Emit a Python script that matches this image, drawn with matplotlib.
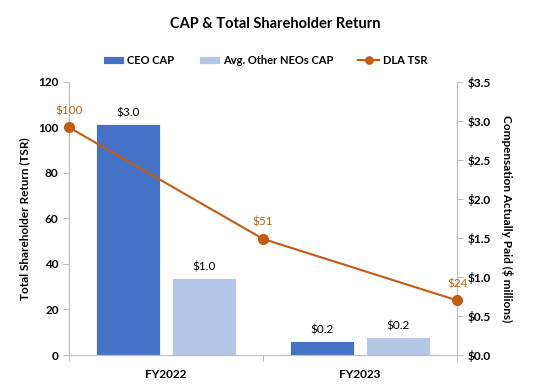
import matplotlib.pyplot as plt
from matplotlib.ticker import FuncFormatter

plt.rcParams['font.family'] = ['Lato', 'DejaVu Sans']

years = ['FY2022', 'FY2023']
ceo_cap = [2.96, 0.18]
other_cap = [0.99, 0.235]
tsr_pos = [0, 1, 2]
tsr = [100, 51, 24]

blue = '#4472C4'
light = '#B4C7E7'
orange = '#C55A11'
grey = '#BFBFBF'

fig = plt.figure(figsize=(5.5, 3.88), dpi=100)
ax = fig.add_axes([0.1255, 0.085, 0.7055, 0.704])
ax2 = ax.twinx()

# bars on the compensation scale (shown on the right)
w = 0.33
off = 0.194
centers = [0.5, 1.5]
b1 = ax.bar([c - off for c in centers], ceo_cap, w, color=blue, edgecolor='white', linewidth=0.6, label='CEO CAP')
b2 = ax.bar([c + off for c in centers], other_cap, w, color=light, edgecolor='white', linewidth=0.6, label='Avg. Other NEOs CAP')
for bars in (b1, b2):
    for r in bars:
        ax.annotate('$%.1f' % r.get_height(), (r.get_x() + r.get_width() / 2, r.get_height()),
                    xytext=(0, 4), textcoords='offset points', ha='center', va='bottom', fontsize=8.5)

ax.set_ylim(0, 3.5)
ax.set_yticks([i * 0.5 for i in range(8)])
ax.yaxis.set_major_formatter(FuncFormatter(lambda v, p: '$%.1f' % v))
ax.yaxis.tick_right()
ax.yaxis.set_label_position('right')
ax.set_ylabel('Compensation Actually Paid ($ millions)', rotation=-90, labelpad=16, fontsize=8.5, fontweight='bold')

# TSR line (shown on the left)
ln, = ax2.plot(tsr_pos, tsr, color=orange, lw=1.5, marker='o', ms=7, label='DLA TSR', clip_on=False, zorder=5)
for x, v in zip(tsr_pos, tsr):
    ax2.annotate('$%d' % v, (x, v), xytext=(0, 8), textcoords='offset points', ha='center', va='bottom',
                 fontsize=8.5, color=orange)
ax2.set_ylim(0, 120)
ax2.set_yticks(range(0, 121, 20))
ax2.yaxis.tick_left()
ax2.yaxis.set_label_position('left')
ax2.set_ylabel('Total Shareholder Return (TSR)', labelpad=6, fontsize=8.5, fontweight='bold')

ax.set_xlim(0, 2)
ax.set_xticks([0, 1, 2])
ax.set_xticklabels([])
ax.set_xticks(centers, minor=True)
ax.set_xticklabels(years, minor=True, fontsize=8.5, fontweight='bold')
ax.tick_params(axis='x', which='minor', length=0, pad=10)

for a in (ax, ax2):
    a.spines['top'].set_visible(False)
    for s in ('left', 'right', 'bottom'):
        a.spines[s].set_color(grey)
    a.tick_params(which='major', color=grey, length=4)
    for t in a.get_yticklabels():
        t.set_fontweight('bold')
        t.set_fontsize(8.5)

fig.suptitle('CAP & Total Shareholder Return', y=0.955, fontsize=10.5, fontweight='bold')
leg = fig.legend(handles=[b1, b2, ln], loc='center', bbox_to_anchor=(0.482, 0.845), ncol=3, frameon=False,
                 prop={'weight': 'bold', 'size': 8}, handlelength=1.9, columnspacing=2.2, handletextpad=0.3,
                 markerscale=0.75)

fig.savefig('out.png', dpi=100)
